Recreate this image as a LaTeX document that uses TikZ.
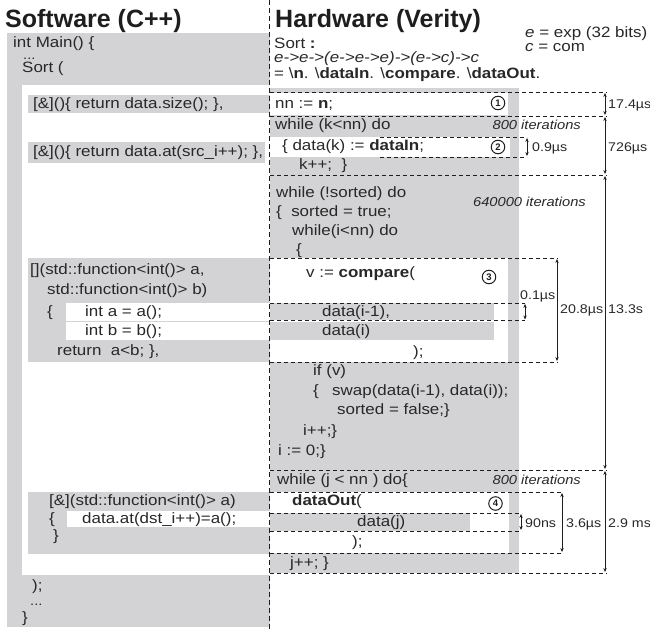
\documentclass[tikz,border=0pt]{standalone}
\usepackage{fontspec}
\setmainfont{Liberation Sans}[FakeStretch=1.13]
\newfontfamily\titlefont{Liberation Sans}
\usetikzlibrary{arrows.meta}
\definecolor{bg}{RGB}{211,211,213}
\definecolor{ink}{RGB}{30,30,30}
\definecolor{body}{RGB}{40,40,40}
\tikzset{
 txt/.style={anchor=base west, inner sep=0pt, font=\fontsize{15}{18}\selectfont, text=body},
 dots/.style={anchor=base west, inner sep=0pt, font=\fontsize{13}{14}\selectfont, text=body, text height=2pt, text depth=0pt},
 lbl/.style={anchor=base west, inner sep=0pt, font=\fontsize{12.6}{15}\selectfont, text=body},
 iter/.style={anchor=base east, inner sep=0pt, font=\fontsize{13}{16}\selectfont\itshape, text=body},
 ttl/.style={anchor=base west, inner sep=0pt, font=\titlefont\fontsize{25}{28}\selectfont\bfseries, text=ink},
 dline/.style={draw=ink, line width=0.9pt, dash pattern=on 4pt off 3pt},
 divider/.style={draw=ink, line width=1.2pt, dash pattern=on 5pt off 3pt},
 dim/.style={draw=ink, line width=0.8pt, {Stealth[length=4pt,width=3.4pt]}-{Stealth[length=4pt,width=3.4pt]}},
 num/.style={circle, draw=ink, line width=1pt, minimum size=13.5pt, inner sep=0pt, font=\titlefont\fontsize{9.5}{10}\selectfont\bfseries, text=ink},
}
\begin{document}
\begin{tikzpicture}[x=1pt,y=-1pt]
\useasboundingbox (0,0) rectangle (650,631);
% ---------- left panel backgrounds
\fill[bg] (7,33) rectangle (270,627);
\fill[white] (22,85) rectangle (270,575);
\fill[bg] (28,95) rectangle (270,113);
\fill[bg] (28,142) rectangle (265,163);
\fill[bg] (28,258) rectangle (270,362);
\fill[white] (66,303) rectangle (270,321);
\fill[white] (66,322) rectangle (270,340);
\fill[bg] (28,492) rectangle (270,554);
\fill[white] (67,511) rectangle (270,527);
% ---------- right panel backgrounds
\fill[bg] (270,88) rectangle (519,573);
\fill[white] (270,93) rectangle (508,115);
\fill[white] (270,137) rectangle (510,157);
\fill[white] (270,258) rectangle (508,362);
\fill[bg] (270,303) rectangle (494,320);
\fill[bg] (270,321.5) rectangle (494,339.5);
\fill[white] (270,492) rectangle (509,553);
\fill[bg] (270,513) rectangle (470,531);
% ---------- dashed lines
\draw[dline] (270,92) -- (607,92);
\draw[dline] (270,116) -- (607,116);
\draw[dline] (380,137) -- (527,137);
\draw[dline] (380,157) -- (527,157);
\draw[dline] (270,175) -- (607,175);
\draw[dline] (270,258) -- (558,258);
\draw[dline] (270,303) -- (525,303);
\draw[dline] (270,320.5) -- (525,320.5);
\draw[dline] (270,362) -- (558,362);
\draw[dline] (270,470) -- (607,470);
\draw[dline] (270,492) -- (563,492);
\draw[dline] (270,513) -- (522,513);
\draw[dline] (270,531) -- (522,531);
\draw[dline] (270,553) -- (563,553);
\draw[dline] (270,573) -- (607,573);
\draw[divider] (269.5,0) -- (269.5,631);
% ---------- titles
\node[ttl] (swt) at (5,28) {Software (C++)};
\node[ttl] (hwt) at (275,28) {Hardware (Verity)};
% ---------- left text
\node[txt] (l1) at (13,48) {int Main() \{};
\node[dots] (l2) at (23,60) {...};
\node[txt] (l3) at (22,73) {Sort (};
\node[txt] (l4) at (33,109) {[\&]()\{ return data.size(); \},};
\node[txt] (l5) at (33,157) {[\&]()\{ return data.at(src\_i++); \},};
\node[txt] (l6) at (30,274) {[](std::function<int()> a,};
\node[txt] (l7) at (47,294) {std::function<int()> b)};
\node[txt] (l8) at (47,316) {\{};
\node[txt] (l9) at (85,316) {int a = a();};
\node[txt] (l10) at (85,335) {int b = b();};
\node[txt] (l11) at (57,355) {return\ \ a<b; \},};
\node[txt] (l12) at (49,505) {[\&](std::function<int()> a)};
\node[txt] (l13) at (49,523) {\{};
\node[txt] (l14) at (82,523) {data.at(dst\_i++)=a();};
\node[txt] (l15) at (53,540) {\}};
\node[txt] (l16) at (32,590) {);};
\node[dots] (l17) at (30,605) {...};
\node[txt] (l18) at (22,622) {\}};
% ---------- right header text
\node[txt] (r1) at (274,49) {Sort \textbf{:}};
\node[txt] (r2) at (274,63) {\itshape e->e->(e->e->e)->(e->c)->c};
\node[txt] (r3) at (274,79) {= \textbackslash\textbf{n}. \textbackslash\textbf{dataIn}. \textbackslash\textbf{compare}. \textbackslash\textbf{dataOut}.};
\node[txt] (r4) at (525,38) {\textit{e} = exp (32 bits)};
\node[txt] (r5) at (525,52) {\textit{c} = com};
% ---------- right code text
\node[txt] (c1) at (275,108.5) {nn := \textbf{n};};
\node[txt] (c2) at (275,129.5) {while (k<nn) do};
\node[iter] (it1) at (581,129.5) {800 iterations};
\node[txt] (c3) at (282,151) {\{ data(k) := \textbf{dataIn};};
\node[txt] (c4) at (299,170) {k++;\ \ \}};
\node[txt] (c5) at (276,197) {while (!sorted) do};
\node[iter] (it2) at (586,206) {640000 iterations};
\node[txt] (c6) at (276,216) {\{\ \ sorted = true;};
\node[txt] (c7) at (292,235) {while(i<nn) do};
\node[txt] (c8) at (296,254) {\{};
\node[txt] (c9) at (306,277.5) {v := \textbf{compare}(};
\node[txt] (c10) at (322,316) {data(i-1),};
\node[txt] (c11) at (322,335) {data(i)};
\node[txt] (c12) at (413,356) {);};
\node[txt] (c13) at (313,375) {if (v)};
\node[txt] (c14) at (313,395) {\{};
\node[txt] (c15) at (332,395) {swap(data(i-1), data(i));};
\node[txt] (c16) at (337,414.5) {sorted = false;\}};
\node[txt] (c17) at (303,435) {i++;\}};
\node[txt] (c18) at (278,455) {i := 0;\}};
\node[txt] (c19) at (277,484.5) {while (j < nn ) do\{};
\node[iter] (it3) at (581,484.5) {800 iterations};
\node[txt] (c20) at (292,505) {\textbf{dataOut}(};
\node[txt] (c21) at (357,526) {data(j)};
\node[txt] (c22) at (352,546.5) {);};
\node[txt] (c23) at (290,567) {j++; \}};
% ---------- numbered circles
\node[num] (n1) at (498,103) {1};
\node[num] (n2) at (498,147) {2};
\node[num] (n3) at (489,277) {3};
\node[num] (n4) at (495.5,503.5) {4};
% ---------- dimension arrows
\coordinate (a1t) at (605,93);   \coordinate (a1b) at (605,115);
\coordinate (a2t) at (527,138);  \coordinate (a2b) at (527,156);
\coordinate (a3t) at (605,117);  \coordinate (a3b) at (605,174);
\coordinate (a4t) at (525,304);  \coordinate (a4b) at (525,319.5);
\coordinate (a5t) at (557,259);  \coordinate (a5b) at (557,361);
\coordinate (a6t) at (605,176);  \coordinate (a6b) at (605,469);
\coordinate (a7t) at (521,514);  \coordinate (a7b) at (521,530);
\coordinate (a8t) at (562,493);  \coordinate (a8b) at (562,552);
\coordinate (a9t) at (605,471);  \coordinate (a9b) at (605,572);
\draw[dim] (a1t) -- (a1b);
\draw[dim] (a2t) -- (a2b);
\draw[dim] (a3t) -- (a3b);
\draw[dim] (a4t) -- (a4b);
\draw[dim] (a5t) -- (a5b);
\draw[dim] (a6t) -- (a6b);
\draw[dim] (a7t) -- (a7b);
\draw[dim] (a8t) -- (a8b);
\draw[dim] (a9t) -- (a9b);
% ---------- labels
\node[lbl] (d1) at (608,109) {17.4µs};
\node[lbl] (d2) at (532,151.5) {0.9µs};
\node[lbl] (d3) at (608,151.5) {726µs};
\node[lbl] (d4) at (520,299) {0.1µs};
\node[lbl] (d5) at (560,313) {20.8µs};
\node[lbl] (d6) at (608,313) {13.3s};
\node[lbl] (d7) at (525,527) {90ns};
\node[lbl] (d8) at (566,527) {3.6µs};
\node[lbl] (d9) at (608,527) {2.9 ms};
\end{tikzpicture}
\end{document}
